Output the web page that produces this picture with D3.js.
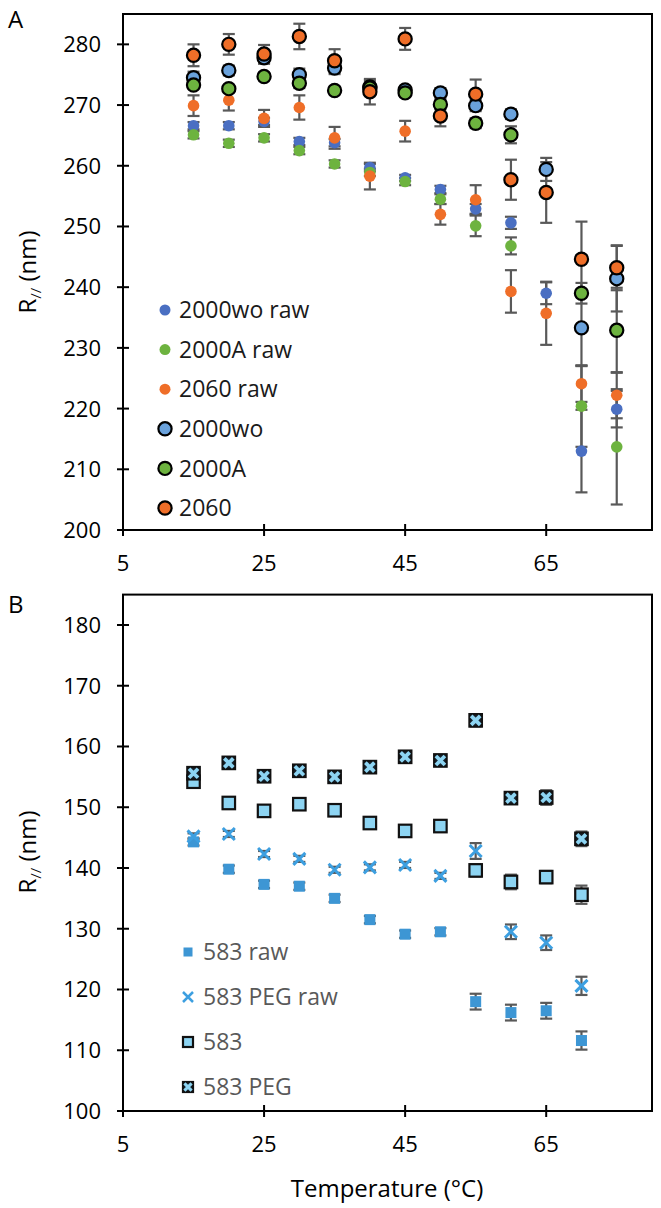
<!DOCTYPE html>
<html><head><meta charset="utf-8">
<script src="https://cdn.jsdelivr.net/npm/d3@7/dist/d3.min.js"></script>
<style>body{margin:0;background:#fff}svg{display:block;font-family:"Open Sans",sans-serif}</style>
</head><body>
<svg id="c" width="661" height="1208"></svg>
<script>
// ---------- Data ----------
const tempsA = [15,20,25,30,35,40,45,50,55,60,65,70,75];
const woRaw     = [266.6,266.6,267.3,264.0,263.8,259.7,258.0,256.1,252.9,250.6,239.0,213.0,219.9];
const woRawErr  = [0.6,0.6,0.6,0.6,0.6,0.6,0.5,0.6,0.8,1.0,1.8,6.8,3.0];
const aRaw      = [265.1,263.7,264.6,262.5,260.3,258.9,257.4,254.5,250.1,246.8,null,220.4,213.7];
const aRawErr   = [0.6,0.6,0.6,0.6,0.6,0.6,0.6,0.8,1.7,1.4,null,6.7,9.5];
const s60Raw    = [269.9,270.8,267.8,269.6,264.6,258.3,265.7,252.0,254.4,239.3,235.7,224.1,222.2];
const s60RawErr = [1.7,1.7,1.4,2.0,1.8,2.2,1.7,1.7,2.4,3.5,5.2,3.0,3.8];
const wo        = [274.5,275.7,277.8,275.0,276.1,273.0,272.5,272.0,269.9,268.5,259.4,233.3,241.4];
const woErr     = [1.0,0.8,1.0,1.0,1.0,1.0,0.6,0.8,0.9,0.8,1.9,6.3,5.4];
const aSer      = [273.3,272.7,274.7,273.6,272.4,272.8,272.0,270.1,267.0,265.1,null,239.0,232.9];
const aErr      = [0.6,0.6,0.6,0.8,0.6,0.8,0.6,0.8,0.8,1.4,null,1.7,7.0];
const s60       = [278.2,280.0,278.4,281.3,277.3,272.2,280.9,268.2,271.8,257.7,255.6,244.6,243.2];
const s60Err    = [1.8,1.7,1.5,2.1,1.9,2.1,1.8,1.7,2.4,3.3,5.0,6.2,3.7];

const tempsB = [15,20,25,30,35,40,45,50,55,60,65,70];
const b583Raw    = [144.3,139.8,137.3,137.0,135.0,131.5,129.1,129.5,118.0,116.2,116.5,111.6];
const b583RawErr = [0.6,0.6,0.6,0.6,0.6,0.6,0.6,0.6,1.3,1.3,1.3,1.5];
const pegRaw     = [145.2,145.6,142.3,141.5,139.7,140.1,140.5,138.7,142.8,129.5,127.7,120.6];
const pegRawErr  = [0.5,0.5,0.5,0.5,0.5,0.5,0.5,0.5,1.3,1.2,1.2,1.5];
const b583       = [154.2,150.7,149.4,150.5,149.5,147.4,146.1,146.9,139.6,137.7,138.5,135.6];
const b583Err    = [0.5,0.5,0.5,0.5,0.5,0.5,0.5,0.5,1.0,1.2,1.0,1.5];
const peg        = [155.6,157.3,155.1,156.0,155.0,156.6,158.3,157.7,164.3,151.5,151.6,144.8];
const pegErr     = [0.5,0.5,0.5,0.5,0.5,0.5,0.5,0.5,1.0,0.6,1.2,1.2];

const xTicks = [5,25,45,65];
const yTicksA = [200,210,220,230,240,250,260,270,280];
const yTicksB = [100,110,120,130,140,150,160,170,180];
const legendA = ["2000wo raw","2000A raw","2060 raw","2000wo","2000A","2060"];
const legendB = ["583 raw","583 PEG raw","583","583 PEG"];

// ---------- Setup ----------
const svg = d3.select("#c");
const x = d3.scaleLinear().domain([5,80]).range([123,652]);
const yA = d3.scaleLinear().domain([200,285]).range([530,14]);
const yB = d3.scaleLinear().domain([100,185]).range([1111,594.6]);

const C = {woRaw:"#4a6fc2", aRaw:"#6db33f", s60Raw:"#ef6e28", wo:"#6aa2dc", a:"#6db33f", s60:"#ef6e28",
           bRaw:"#3d96d4", pegX:"#3d9fe0", light:"#8dd4f2"};

function frame(y, ticks, top){
  const g = svg.append("g");
  g.append("rect").attr("x",x(5)).attr("y",y(top)).attr("width",x(80)-x(5)).attr("height",y(ticks[0])-y(top))
    .attr("fill","none").attr("stroke","#000").attr("stroke-width",2);
  ticks.forEach(t=>{
    g.append("line").attr("x1",x(5)-6).attr("x2",x(5)+6).attr("y1",y(t)).attr("y2",y(t)).attr("stroke","#000").attr("stroke-width",2);
    g.append("text").attr("x",x(5)-22).attr("y",y(t)).attr("dy","0.36em").attr("text-anchor","end")
      .attr("font-size",22).attr("fill","#000").text(t);
  });
  xTicks.forEach(t=>{
    g.append("line").attr("x1",x(t)).attr("x2",x(t)).attr("y1",y(ticks[0])-6).attr("y2",y(ticks[0])+6).attr("stroke","#000").attr("stroke-width",2);
    g.append("text").attr("x",x(t)).attr("y",y(ticks[0])+33).attr("dy","0.36em").attr("text-anchor","middle")
      .attr("font-size",22).attr("fill","#000").text(t);
  });
}
frame(yA, yTicksA, 285);
frame(yB, yTicksB, 185);

function errBars(y, temps, vals, errs){
  const g = svg.append("g").attr("stroke","#595959").attr("stroke-width",2.2);
  temps.forEach((t,i)=>{
    if(vals[i]==null) return;
    const cx=x(t), y1=y(vals[i]+errs[i]), y2=y(vals[i]-errs[i]);
    g.append("line").attr("x1",cx).attr("x2",cx).attr("y1",y1).attr("y2",y2);
    g.append("line").attr("x1",cx-6).attr("x2",cx+6).attr("y1",y1).attr("y2",y1);
    g.append("line").attr("x1",cx-6).attr("x2",cx+6).attr("y1",y2).attr("y2",y2);
  });
}
function circle(g,cx,cy,fill,border){
  g.append("circle").attr("cx",cx).attr("cy",cy).attr("r",border?6.6:5.8)
    .attr("fill",fill).attr("stroke",border?"#000":"none").attr("stroke-width",border?2.2:0);
}
function square(g,cx,cy,fill,border,xmark,s){
  s = s || (border?12.5:11);
  g.append("rect").attr("x",cx-s/2).attr("y",cy-s/2).attr("width",s).attr("height",s)
    .attr("fill",xmark?"#16222c":fill).attr("stroke",border?"#111":"none").attr("stroke-width",border?2.2:0);
  if(xmark){
    const d=s*0.36;
    g.append("path").attr("d",`M${cx-d},${cy-d}L${cx+d},${cy+d}M${cx+d},${cy-d}L${cx-d},${cy+d}`)
      .attr("stroke",C.light).attr("stroke-width",s*0.3).attr("fill","none");
  }
}
function cross(g,cx,cy,color){
  const d=6;
  g.append("path").attr("d",`M${cx-d},${cy-d}L${cx+d},${cy+d}M${cx+d},${cy-d}L${cx-d},${cy+d}`)
    .attr("stroke",color).attr("stroke-width",3).attr("fill","none");
}

// ---------- Panel A ----------
const seriesA = [
  {v:woRaw,e:woRawErr,fill:C.woRaw,b:false},
  {v:aRaw,e:aRawErr,fill:C.aRaw,b:false},
  {v:s60Raw,e:s60RawErr,fill:C.s60Raw,b:false},
  {v:wo,e:woErr,fill:C.wo,b:true},
  {v:aSer,e:aErr,fill:C.a,b:true},
  {v:s60,e:s60Err,fill:C.s60,b:true}
];
seriesA.forEach(s=>errBars(yA,tempsA,s.v,s.e));
const mA = svg.append("g");
seriesA.forEach(s=>tempsA.forEach((t,i)=>{ if(s.v[i]!=null) circle(mA,x(t),yA(s.v[i]),s.fill,s.b); }));

const lgA = svg.append("g");
seriesA.forEach((s,i)=>{
  const ly = 310 + i*39.6;
  if(s.b) circle(lgA,165,ly,s.fill,true); else lgA.append("circle").attr("cx",165).attr("cy",ly).attr("r",5.5).attr("fill",s.fill);
  lgA.append("text").attr("x",179).attr("y",ly).attr("dy","0.36em").attr("font-size",23).attr("fill","#1a1a1a").text(legendA[i]);
});

// ---------- Panel B ----------
const seriesB = [
  {v:b583Raw,e:b583RawErr,type:"rawsq"},
  {v:pegRaw,e:pegRawErr,type:"cross"},
  {v:b583,e:b583Err,type:"sq"},
  {v:peg,e:pegErr,type:"sqx"}
];
seriesB.forEach(s=>errBars(yB,tempsB,s.v,s.e));
const mB = svg.append("g");
function markB(g,type,cx,cy,s){
  if(type==="rawsq") square(g,cx,cy,C.bRaw,false,false,s);
  else if(type==="cross") cross(g,cx,cy,C.pegX);
  else if(type==="sq") square(g,cx,cy,C.light,true,false,s);
  else square(g,cx,cy,C.light,true,true,s);
}
seriesB.forEach(s=>tempsB.forEach((t,i)=>markB(mB,s.type,x(t),yB(s.v[i]))));

const lgB = svg.append("g");
seriesB.forEach((s,i)=>{
  const ly = 952 + i*45;
  if(s.type==="rawsq") lgB.append("rect").attr("x",183.5).attr("y",ly-4.5).attr("width",9).attr("height",9).attr("fill",C.bRaw);
  else if(s.type==="cross") { lgB.append("path").attr("d",`M183,${ly-5}L193,${ly+5}M193,${ly-5}L183,${ly+5}`).attr("stroke",C.pegX).attr("stroke-width",2.5); }
  else markB(lgB,s.type,188,ly,10);
  lgB.append("text").attr("x",203).attr("y",ly).attr("dy","0.36em").attr("font-size",23).attr("fill","#595959").text(legendB[i]);
});

// ---------- Labels ----------
function yLabel(cy){
  const t = svg.append("text").attr("transform",`translate(36,${cy}) rotate(-90)`).attr("text-anchor","middle")
    .attr("font-size",24).attr("fill","#000");
  t.append("tspan").text("R");
  t.append("tspan").attr("font-size",15).attr("dy",5).text("//");
  t.append("tspan").attr("dy",-5).text(" (nm)");
}
yLabel(272);
yLabel(852);
svg.append("text").attr("x",8).attr("y",28).attr("font-size",24).text("A");
svg.append("text").attr("x",8).attr("y",613).attr("font-size",24).text("B");
svg.append("text").attr("x",387).attr("y",1188).attr("dy","0.36em").attr("text-anchor","middle").attr("font-size",24).text("Temperature (°C)");
</script>
</body></html>
